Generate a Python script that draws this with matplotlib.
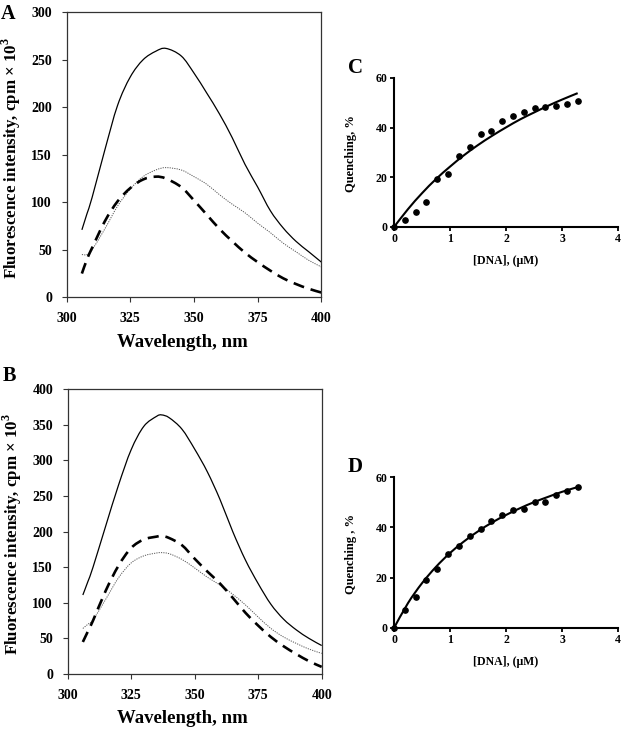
import matplotlib
matplotlib.use("Agg")
import matplotlib.pyplot as plt
from matplotlib.path import Path
from matplotlib.patches import PathPatch

plt.rcParams['font.family'] = ['Liberation Serif', 'DejaVu Serif']
plt.rcParams['font.weight'] = 'bold'
plt.rcParams['mathtext.fontset'] = 'custom'
plt.rcParams['mathtext.rm'] = 'Liberation Serif:bold'
plt.rcParams['mathtext.bf'] = 'Liberation Serif:bold'

# Panel A spectra
wl_a = [306, 308, 310, 315, 320, 325, 330, 335, 339, 345, 350, 355, 360, 365, 370, 375, 380, 385, 390, 395, 400]
a_solid = [71, 88, 105, 155, 202, 232, 250, 259, 262, 254, 236, 215, 193, 168, 140, 116, 91, 73, 59, 48, 37]
a_dotted = [45, 45, 50, 72, 96, 114, 127, 134, 136.5, 134, 127, 119, 108, 98, 89, 78, 68, 57, 48, 39, 32]
a_dashed = [25, 40, 52, 80, 101, 115, 124, 127, 125, 116, 102, 87, 72, 59, 47, 37, 28, 20, 14, 9, 5]

# Panel B spectra
wl_b = [306, 308, 310, 315, 320, 325, 330, 335, 337, 340, 345, 350, 355, 360, 365, 370, 375, 380, 385, 390, 395, 400]
b_solid = [111, 130, 150, 208, 265, 315, 348, 362, 364, 360, 344, 316, 284, 245, 200, 160, 127, 98, 77, 62, 50, 40]
b_dotted = [64, 70, 76, 105, 135, 156, 166, 170, 170.5, 169, 161, 149, 136, 125, 112, 97, 80, 64, 52, 43, 35, 29]
b_dashed = [45, 60, 75, 117, 152, 177, 189, 193, 194, 191, 181, 162, 144, 127, 107, 86, 68, 52, 39, 28, 18, 10]

# Panels C/D quenching
dna = [0, 0.19, 0.39, 0.58, 0.77, 0.97, 1.16, 1.35, 1.55, 1.74, 1.93, 2.12, 2.32, 2.51, 2.70, 2.90, 3.09, 3.28]
c_pts = [0, 2.7, 5.9, 10.2, 19.2, 21.2, 28.5, 32.2, 37.4, 38.8, 42.8, 44.8, 46.3, 47.8, 48.3, 48.9, 49.7, 50.6]
d_pts = [0, 7.2, 12.2, 18.9, 23.4, 29.3, 32.7, 36.6, 39.5, 42.6, 45.0, 47.0, 47.2, 49.9, 49.9, 53.0, 54.6, 55.9]
fit_x = [0, 0.25, 0.5, 0.75, 1.0, 1.25, 1.5, 1.75, 2.0, 2.25, 2.5, 2.75, 3.0, 3.28]
c_fit = [0, 7.2, 13.6, 19.3, 24.3, 28.9, 33.0, 36.7, 40.1, 43.3, 46.1, 48.8, 51.3, 53.9]
d_fit = [0, 9.9, 17.8, 24.3, 29.8, 34.4, 38.4, 41.9, 44.9, 47.6, 50.0, 52.1, 54.1, 56.0]

spec_xticks = [300, 325, 350, 375, 400]

W, H = 622, 729
fig = plt.figure(figsize=(W / 100, H / 100), dpi=100)


def ax_px(l, t, r, b):
    return fig.add_axes([l / W, 1 - b / H, (r - l) / W, (b - t) / H])


def smooth_line(ax, xs, ys, **kw):
    """Draw a smoothed (Catmull-Rom / Bezier) line through the given points."""
    pts = list(zip(xs, ys))
    n = len(pts)
    verts = [pts[0]]
    codes = [Path.MOVETO]
    for i in range(n - 1):
        p0 = pts[i - 1] if i > 0 else pts[i]
        p1 = pts[i]
        p2 = pts[i + 1]
        p3 = pts[i + 2] if i + 2 < n else pts[i + 1]
        c1 = (p1[0] + (p2[0] - p0[0]) / 6.0, p1[1] + (p2[1] - p0[1]) / 6.0)
        c2 = (p2[0] - (p3[0] - p1[0]) / 6.0, p2[1] - (p3[1] - p1[1]) / 6.0)
        verts += [c1, c2, p2]
        codes += [Path.CURVE4, Path.CURVE4, Path.CURVE4]
    patch = PathPatch(Path(verts, codes), facecolor='none', capstyle='butt', **kw)
    ax.add_patch(patch)
    return patch


def spectrum(ax, wl, s, dt, ds, ymax, letter, letter_y):
    smooth_line(ax, wl, s, edgecolor='black', lw=0.9)
    smooth_line(ax, wl, dt, edgecolor='#555555', lw=0.7, linestyle=(0, (1.2, 1.2)))
    smooth_line(ax, wl, ds, edgecolor='black', lw=1.9, linestyle=(0, (4.2, 2.6)))
    ax.set_xlim(300, 400)
    ax.set_ylim(0, ymax)
    ax.set_xticks(spec_xticks)
    ax.set_yticks(range(0, ymax + 1, 50))
    for sp in ax.spines.values():
        sp.set_color('#333333')
        sp.set_linewidth(0.9)
    ax.tick_params(direction='out', length=3.5, width=0.8, color='#333333',
                   labelsize=10, pad=7)
    ax.set_xlabel('Wavelength, nm', fontsize=13.5, fontweight='bold')
    ax.xaxis.set_label_coords(0.453, -0.128)
    ax.set_ylabel(r'Fluorescence intensity, cpm $\times$ 10$^3$', fontsize=12.2,
                  fontweight='bold')
    ax.yaxis.set_label_coords(-0.172, 0.49)
    ax.text(-0.23, letter_y, letter, transform=ax.transAxes, fontsize=14.5,
            fontweight='bold', ha='center', va='center')


def quench(ax, pts, fit, ylab, letter):
    smooth_line(ax, fit_x, fit, edgecolor='black', lw=1.5)
    ax.plot(dna, pts, 'o', color='black', ms=3.8, clip_on=False)
    ax.set_xlim(0, 4)
    ax.set_ylim(0, 60)
    ax.set_xticks([0, 1, 2, 3, 4])
    ax.set_yticks([0, 20, 40, 60])
    ax.spines['top'].set_visible(False)
    ax.spines['right'].set_visible(False)
    for k in ('left', 'bottom'):
        ax.spines[k].set_linewidth(1.5)
    ax.tick_params(direction='out', length=3, width=1.3, labelsize=8.5, pad=1.5)
    ax.set_xlabel('[DNA], (μM)', fontsize=8.5, fontweight='bold')
    ax.xaxis.set_label_coords(0.5, -0.185)
    ax.set_ylabel(ylab, fontsize=9, fontweight='bold')
    ax.yaxis.set_label_coords(-0.165, 0.49)
    ax.text(-0.174, 1.067, letter, transform=ax.transAxes, fontsize=15,
            fontweight='bold', ha='center', va='center')


axA = ax_px(66.6, 12.3, 321.4, 297.3)
spectrum(axA, wl_a, a_solid, a_dotted, a_dashed, 300, 'A', 0.995)

axB = ax_px(67.6, 389.3, 321.7, 674)
spectrum(axB, wl_b, b_solid, b_dotted, b_dashed, 400, 'B', 1.045)

axC = ax_px(394, 78, 618, 227)
quench(axC, c_pts, c_fit, 'Quenching, %', 'C')

axD = ax_px(394, 477, 618, 628)
quench(axD, d_pts, d_fit, 'Quenching , %', 'D')

fig.savefig('out.png', dpi=100)
